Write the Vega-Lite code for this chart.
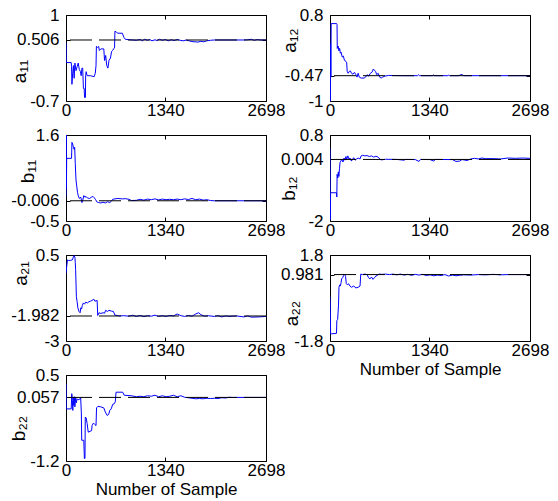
{
"$schema": "https://vega.github.io/schema/vega-lite/v6.json",
"padding": {"left": 8, "top": 5, "right": 5, "bottom": 2},
"background": "white",
"config": {
 "font": "Liberation Sans",
 "view": {"stroke": "black", "strokeWidth": 1},
 "axis": {"grid": false, "domain": false, "tickColor": "black", "tickSize": -4, "labelFont": "Liberation Sans", "labelFontSize": 17, "labelColor": "black", "titleFont": "Liberation Sans", "titleFontSize": 17, "titleFontWeight": "normal", "titleColor": "black", "labelOverlap": false, "labelFlush": false},
 "axisLeft": {"labelPadding": 11, "titleFontSize": 19},
 "axisBottom": {"labelPadding": 5, "titlePadding": 3}
},
"datasets": {
 "a11": [{"x":0,"y":0.45},{"x":3,"y":0.06},{"x":70,"y":0.06},{"x":75,"y":-0.02},{"x":80,"y":-0.37},{"x":90,"y":-0.15},{"x":100,"y":0.0},{"x":110,"y":-0.25},{"x":120,"y":0.05},{"x":135,"y":-0.1},{"x":150,"y":-0.02},{"x":165,"y":0.05},{"x":180,"y":-0.08},{"x":195,"y":-0.12},{"x":205,"y":-0.2},{"x":215,"y":-0.05},{"x":225,"y":-0.05},{"x":235,"y":-0.45},{"x":245,"y":-0.45},{"x":250,"y":-0.63},{"x":262,"y":-0.63},{"x":265,"y":-0.2},{"x":272,"y":-0.12},{"x":285,"y":-0.2},{"x":330,"y":-0.2},{"x":380,"y":-0.22},{"x":395,"y":-0.15},{"x":405,"y":0.0},{"x":410,"y":0.38},{"x":425,"y":0.36},{"x":440,"y":0.38},{"x":450,"y":0.3},{"x":470,"y":0.33},{"x":510,"y":0.33},{"x":520,"y":0.1},{"x":535,"y":0.2},{"x":550,"y":0.0},{"x":565,"y":-0.05},{"x":580,"y":0.1},{"x":600,"y":0.15},{"x":615,"y":0.28},{"x":630,"y":0.3},{"x":645,"y":0.34},{"x":655,"y":0.35},{"x":660,"y":0.68},{"x":680,"y":0.66},{"x":700,"y":0.64},{"x":760,"y":0.64},{"x":780,"y":0.56},{"x":800,"y":0.52},{"x":860,"y":0.51},{"x":900,"y":0.506},{"x":950,"y":0.5},{"x":1000,"y":0.515},{"x":1030,"y":0.49},{"x":1060,"y":0.52},{"x":1100,"y":0.5},{"x":1130,"y":0.515},{"x":1160,"y":0.49},{"x":1200,"y":0.51},{"x":1230,"y":0.495},{"x":1260,"y":0.52},{"x":1300,"y":0.5},{"x":1340,"y":0.515},{"x":1380,"y":0.49},{"x":1420,"y":0.51},{"x":1460,"y":0.495},{"x":1500,"y":0.515},{"x":1540,"y":0.5},{"x":1580,"y":0.49},{"x":1620,"y":0.505},{"x":1660,"y":0.49},{"x":1700,"y":0.475},{"x":1740,"y":0.47},{"x":1780,"y":0.465},{"x":1820,"y":0.48},{"x":1860,"y":0.47},{"x":1900,"y":0.49},{"x":1950,"y":0.5},{"x":2000,"y":0.506},{"x":2400,"y":0.506},{"x":2450,"y":0.51},{"x":2500,"y":0.52},{"x":2540,"y":0.5},{"x":2580,"y":0.515},{"x":2620,"y":0.506},{"x":2698,"y":0.506}],
 "a12": [{"x":0,"y":-0.2},{"x":4,"y":-1.0},{"x":8,"y":0.2},{"x":12,"y":-0.5},{"x":16,"y":0.62},{"x":90,"y":0.62},{"x":95,"y":0.6},{"x":98,"y":0.1},{"x":110,"y":0.15},{"x":120,"y":0.05},{"x":130,"y":0.1},{"x":140,"y":0.0},{"x":150,"y":0.02},{"x":165,"y":-0.08},{"x":180,"y":-0.06},{"x":195,"y":-0.15},{"x":215,"y":-0.17},{"x":225,"y":-0.2},{"x":232,"y":-0.38},{"x":245,"y":-0.42},{"x":260,"y":-0.38},{"x":275,"y":-0.37},{"x":290,"y":-0.42},{"x":310,"y":-0.44},{"x":330,"y":-0.4},{"x":350,"y":-0.45},{"x":365,"y":-0.5},{"x":380,"y":-0.42},{"x":395,"y":-0.5},{"x":420,"y":-0.52},{"x":460,"y":-0.52},{"x":480,"y":-0.5},{"x":500,"y":-0.45},{"x":520,"y":-0.48},{"x":545,"y":-0.42},{"x":570,"y":-0.39},{"x":585,"y":-0.33},{"x":600,"y":-0.36},{"x":615,"y":-0.38},{"x":630,"y":-0.45},{"x":650,"y":-0.42},{"x":670,"y":-0.5},{"x":690,"y":-0.52},{"x":710,"y":-0.5},{"x":740,"y":-0.48},{"x":790,"y":-0.465},{"x":1000,"y":-0.47},{"x":1180,"y":-0.47},{"x":1195,"y":-0.45},{"x":1210,"y":-0.47},{"x":1380,"y":-0.47},{"x":1395,"y":-0.455},{"x":1410,"y":-0.47},{"x":1590,"y":-0.47},{"x":1600,"y":-0.46},{"x":1610,"y":-0.47},{"x":1740,"y":-0.47},{"x":1760,"y":-0.45},{"x":1790,"y":-0.45},{"x":1800,"y":-0.47},{"x":2698,"y":-0.47}],
 "b11": [{"x":0,"y":0.1},{"x":3,"y":1.6},{"x":6,"y":0.3},{"x":9,"y":1.03},{"x":75,"y":1.03},{"x":80,"y":1.42},{"x":90,"y":1.38},{"x":100,"y":1.3},{"x":110,"y":1.25},{"x":117,"y":1.3},{"x":125,"y":0.9},{"x":135,"y":0.5},{"x":145,"y":0.35},{"x":155,"y":0.2},{"x":165,"y":0.12},{"x":180,"y":0.05},{"x":200,"y":0.08},{"x":215,"y":-0.05},{"x":225,"y":0.0},{"x":240,"y":0.12},{"x":255,"y":0.08},{"x":270,"y":0.1},{"x":290,"y":0.06},{"x":320,"y":0.05},{"x":340,"y":0.08},{"x":365,"y":0.1},{"x":380,"y":0.07},{"x":400,"y":0.02},{"x":420,"y":-0.04},{"x":440,"y":-0.05},{"x":470,"y":-0.06},{"x":500,"y":-0.04},{"x":530,"y":-0.06},{"x":560,"y":-0.03},{"x":590,"y":-0.05},{"x":610,"y":-0.02},{"x":630,"y":0.03},{"x":660,"y":0.04},{"x":700,"y":0.05},{"x":760,"y":0.04},{"x":800,"y":0.045},{"x":850,"y":0.03},{"x":880,"y":0.0},{"x":950,"y":0.005},{"x":1000,"y":0.03},{"x":1050,"y":0.01},{"x":1100,"y":0.035},{"x":1150,"y":0.02},{"x":1200,"y":0.04},{"x":1250,"y":0.015},{"x":1300,"y":0.035},{"x":1350,"y":0.02},{"x":1400,"y":0.03},{"x":1450,"y":0.02},{"x":1500,"y":0.035},{"x":1550,"y":0.02},{"x":1600,"y":0.04},{"x":1650,"y":0.025},{"x":1700,"y":0.05},{"x":1750,"y":0.02},{"x":1800,"y":0.035},{"x":1850,"y":0.01},{"x":1900,"y":0.02},{"x":1950,"y":0.0},{"x":2000,"y":-0.006},{"x":2698,"y":-0.006}],
 "b12": [{"x":0,"y":0.35},{"x":4,"y":-1.95},{"x":8,"y":-1.1},{"x":13,"y":-1.08},{"x":88,"y":-1.08},{"x":92,"y":-1.22},{"x":96,"y":-0.48},{"x":105,"y":-0.6},{"x":112,"y":-0.4},{"x":120,"y":-0.55},{"x":128,"y":-0.3},{"x":135,"y":-0.1},{"x":145,"y":-0.05},{"x":160,"y":0.0},{"x":175,"y":-0.08},{"x":190,"y":0.05},{"x":202,"y":-0.02},{"x":215,"y":0.1},{"x":225,"y":0.0},{"x":240,"y":0.12},{"x":255,"y":0.02},{"x":270,"y":0.05},{"x":290,"y":-0.05},{"x":300,"y":0.0},{"x":320,"y":0.06},{"x":340,"y":-0.02},{"x":360,"y":0.02},{"x":380,"y":0.05},{"x":405,"y":0.02},{"x":420,"y":0.12},{"x":440,"y":0.14},{"x":470,"y":0.12},{"x":500,"y":0.13},{"x":530,"y":0.1},{"x":560,"y":0.12},{"x":590,"y":0.08},{"x":620,"y":0.11},{"x":650,"y":0.08},{"x":680,"y":0.0},{"x":700,"y":-0.01},{"x":720,"y":0.0},{"x":750,"y":0.01},{"x":900,"y":0.004},{"x":1000,"y":-0.02},{"x":1020,"y":0.004},{"x":1150,"y":0.0},{"x":1200,"y":-0.06},{"x":1220,"y":0.004},{"x":1350,"y":0.0},{"x":1400,"y":-0.05},{"x":1420,"y":0.004},{"x":1650,"y":0.0},{"x":1700,"y":-0.06},{"x":1750,"y":-0.05},{"x":1780,"y":0.0},{"x":1850,"y":-0.03},{"x":1900,"y":0.02},{"x":1950,"y":0.04},{"x":2000,"y":0.02},{"x":2050,"y":0.05},{"x":2100,"y":0.03},{"x":2200,"y":0.03},{"x":2300,"y":0.02},{"x":2400,"y":0.05},{"x":2500,"y":0.04},{"x":2600,"y":0.05},{"x":2698,"y":0.04}],
 "a21": [{"x":0,"y":-0.25},{"x":10,"y":0.05},{"x":20,"y":0.3},{"x":30,"y":0.28},{"x":60,"y":0.28},{"x":85,"y":0.3},{"x":100,"y":0.42},{"x":110,"y":0.48},{"x":120,"y":0.4},{"x":125,"y":0.2},{"x":130,"y":-0.1},{"x":140,"y":-1.2},{"x":150,"y":-1.4},{"x":160,"y":-1.65},{"x":175,"y":-1.8},{"x":190,"y":-1.85},{"x":200,"y":-1.65},{"x":210,"y":-1.7},{"x":220,"y":-1.55},{"x":235,"y":-1.45},{"x":250,"y":-1.5},{"x":265,"y":-1.42},{"x":290,"y":-1.45},{"x":310,"y":-1.4},{"x":330,"y":-1.38},{"x":350,"y":-1.35},{"x":375,"y":-1.3},{"x":390,"y":-1.38},{"x":420,"y":-1.35},{"x":428,"y":-1.96},{"x":445,"y":-1.85},{"x":470,"y":-1.88},{"x":500,"y":-1.85},{"x":520,"y":-1.87},{"x":535,"y":-1.75},{"x":560,"y":-1.8},{"x":580,"y":-1.75},{"x":610,"y":-1.78},{"x":640,"y":-1.8},{"x":660,"y":-1.95},{"x":690,"y":-1.96},{"x":720,"y":-1.98},{"x":780,"y":-1.97},{"x":850,"y":-1.99},{"x":900,"y":-1.95},{"x":950,"y":-2.0},{"x":1000,"y":-1.96},{"x":1050,"y":-2.01},{"x":1100,"y":-1.97},{"x":1150,"y":-1.99},{"x":1200,"y":-1.95},{"x":1250,"y":-2.0},{"x":1300,"y":-1.97},{"x":1350,"y":-2.0},{"x":1400,"y":-1.96},{"x":1450,"y":-1.98},{"x":1500,"y":-1.9},{"x":1550,"y":-1.97},{"x":1600,"y":-2.0},{"x":1650,"y":-1.96},{"x":1700,"y":-1.99},{"x":1750,"y":-1.9},{"x":1790,"y":-1.85},{"x":1820,"y":-1.93},{"x":1870,"y":-1.99},{"x":1920,"y":-1.97},{"x":2000,"y":-2.0},{"x":2050,"y":-1.97},{"x":2100,"y":-2.02},{"x":2150,"y":-1.98},{"x":2200,"y":-2.0},{"x":2300,"y":-1.98},{"x":2400,"y":-2.02},{"x":2450,"y":-1.98},{"x":2500,"y":-2.03},{"x":2600,"y":-2.02},{"x":2698,"y":-2.0}],
 "a22": [{"x":0,"y":0.05},{"x":5,"y":-0.5},{"x":8,"y":-1.5},{"x":22,"y":-1.5},{"x":88,"y":-1.48},{"x":92,"y":-0.95},{"x":103,"y":-0.9},{"x":115,"y":-0.3},{"x":121,"y":0.45},{"x":130,"y":0.55},{"x":140,"y":0.5},{"x":150,"y":0.65},{"x":157,"y":0.8},{"x":170,"y":0.85},{"x":185,"y":0.95},{"x":200,"y":1.0},{"x":210,"y":0.9},{"x":220,"y":0.6},{"x":235,"y":0.55},{"x":250,"y":0.6},{"x":270,"y":0.5},{"x":290,"y":0.45},{"x":320,"y":0.5},{"x":350,"y":0.42},{"x":380,"y":0.45},{"x":405,"y":0.5},{"x":415,"y":1.0},{"x":440,"y":0.98},{"x":470,"y":1.0},{"x":500,"y":0.98},{"x":520,"y":0.85},{"x":540,"y":0.8},{"x":560,"y":0.88},{"x":580,"y":0.78},{"x":600,"y":0.85},{"x":620,"y":0.92},{"x":640,"y":0.95},{"x":660,"y":1.0},{"x":700,"y":0.99},{"x":750,"y":1.0},{"x":800,"y":0.98},{"x":850,"y":1.0},{"x":900,"y":0.97},{"x":950,"y":1.0},{"x":1000,"y":0.96},{"x":1050,"y":0.99},{"x":1100,"y":0.95},{"x":1150,"y":0.99},{"x":1200,"y":0.96},{"x":1250,"y":0.99},{"x":1300,"y":0.94},{"x":1350,"y":0.97},{"x":1400,"y":0.93},{"x":1450,"y":0.96},{"x":1500,"y":0.94},{"x":1550,"y":0.98},{"x":1600,"y":0.92},{"x":1650,"y":0.96},{"x":1700,"y":0.93},{"x":1750,"y":0.95},{"x":1800,"y":0.97},{"x":1900,"y":0.96},{"x":2000,"y":0.98},{"x":2100,"y":0.97},{"x":2200,"y":0.99},{"x":2300,"y":0.97},{"x":2400,"y":0.98},{"x":2500,"y":0.981},{"x":2698,"y":0.981}],
 "b22": [{"x":0,"y":0.32},{"x":3,"y":-0.17},{"x":70,"y":-0.17},{"x":78,"y":0.13},{"x":85,"y":0.0},{"x":92,"y":-0.2},{"x":98,"y":0.05},{"x":105,"y":-0.1},{"x":112,"y":0.07},{"x":120,"y":-0.13},{"x":130,"y":0.05},{"x":140,"y":-0.05},{"x":150,"y":0.03},{"x":162,"y":0.01},{"x":184,"y":0.02},{"x":198,"y":0.05},{"x":207,"y":-0.25},{"x":212,"y":-0.79},{"x":240,"y":-0.79},{"x":248,"y":-1.15},{"x":256,"y":-1.15},{"x":260,"y":-0.33},{"x":272,"y":-0.35},{"x":285,"y":-0.46},{"x":300,"y":-0.63},{"x":345,"y":-0.6},{"x":352,"y":-0.5},{"x":370,"y":-0.45},{"x":390,"y":-0.48},{"x":405,"y":-0.5},{"x":412,"y":-0.15},{"x":430,"y":-0.12},{"x":470,"y":-0.13},{"x":510,"y":-0.15},{"x":530,"y":-0.23},{"x":555,"y":-0.3},{"x":575,"y":-0.28},{"x":590,"y":-0.2},{"x":610,"y":-0.17},{"x":630,"y":-0.08},{"x":650,"y":-0.07},{"x":665,"y":-0.03},{"x":675,"y":0.16},{"x":700,"y":0.16},{"x":765,"y":0.16},{"x":785,"y":0.1},{"x":880,"y":0.09},{"x":950,"y":0.07},{"x":1000,"y":0.08},{"x":1050,"y":0.07},{"x":1100,"y":0.09},{"x":1150,"y":0.08},{"x":1200,"y":0.1},{"x":1250,"y":0.07},{"x":1300,"y":0.09},{"x":1350,"y":0.07},{"x":1400,"y":0.08},{"x":1450,"y":0.1},{"x":1500,"y":0.07},{"x":1550,"y":0.09},{"x":1600,"y":0.06},{"x":1650,"y":0.05},{"x":1700,"y":0.04},{"x":1750,"y":0.03},{"x":1800,"y":0.035},{"x":1850,"y":0.03},{"x":1900,"y":0.04},{"x":1950,"y":0.035},{"x":2000,"y":0.04},{"x":2050,"y":0.035},{"x":2100,"y":0.05},{"x":2150,"y":0.045},{"x":2200,"y":0.06},{"x":2250,"y":0.055},{"x":2300,"y":0.057},{"x":2698,"y":0.057}]
},
"columns": 2,
"spacing": {"row": 34, "column": 64},
"bounds": "flush",
"concat": [
 {"width": 200, "height": 86, "resolve": {"axis": {"x": "independent", "y": "independent"}}, "layer": [
  {"data": {"name": "a11"}, "mark": {"type": "line", "color": "#0000ff", "strokeWidth": 1, "clip": true}, "encoding": {
   "x": {"field": "x", "type": "quantitative", "scale": {"domain": [0, 2698], "nice": false, "zero": false}, "axis": {"values": [0, 1340, 2698], "labelExpr": "'' + datum.value", "title": null}},
   "y": {"field": "y", "type": "quantitative", "scale": {"domain": [-0.7, 1], "nice": false, "zero": false}, "axis": {"values": [-0.7, 0.506, 1], "labelExpr": "'' + datum.value", "title": "a₁₁", "titleAngle": 270, "titleAlign": "center", "titleBaseline": "middle", "titleX": -47, "titleY": 56}}}},
  {"data": {"values": [{"v": 0.506}]}, "mark": {"type": "rule", "color": "black", "strokeWidth": 1, "strokeDash": [22, 7]}, "encoding": {"y": {"field": "v", "type": "quantitative", "axis": null}}},
  {"data": {"name": "a11"}, "mark": {"type": "line", "opacity": 0}, "encoding": {
   "x": {"field": "x", "type": "quantitative", "axis": {"orient": "top", "values": [0, 1340, 2698], "labels": false, "title": null}},
   "y": {"field": "y", "type": "quantitative", "axis": {"orient": "right", "values": [-0.7, 0.506, 1], "labels": false, "title": null}}}}
 ]},
 {"width": 200, "height": 86, "resolve": {"axis": {"x": "independent", "y": "independent"}}, "layer": [
  {"data": {"name": "a12"}, "mark": {"type": "line", "color": "#0000ff", "strokeWidth": 1, "clip": true}, "encoding": {
   "x": {"field": "x", "type": "quantitative", "scale": {"domain": [0, 2698], "nice": false, "zero": false}, "axis": {"values": [0, 1340, 2698], "labelExpr": "'' + datum.value", "title": null}},
   "y": {"field": "y", "type": "quantitative", "scale": {"domain": [-1, 0.8], "nice": false, "zero": false}, "axis": {"values": [-1, -0.47, 0.8], "labelExpr": "'' + datum.value", "title": "a₁₂", "titleAngle": 270, "titleAlign": "center", "titleBaseline": "middle", "titleX": -41, "titleY": 25}}}},
  {"data": {"values": [{"v": -0.47}]}, "mark": {"type": "rule", "color": "black", "strokeWidth": 1, "strokeDash": [22, 7]}, "encoding": {"y": {"field": "v", "type": "quantitative", "axis": null}}},
  {"data": {"name": "a12"}, "mark": {"type": "line", "opacity": 0}, "encoding": {
   "x": {"field": "x", "type": "quantitative", "axis": {"orient": "top", "values": [0, 1340, 2698], "labels": false, "title": null}},
   "y": {"field": "y", "type": "quantitative", "axis": {"orient": "right", "values": [-1, -0.47, 0.8], "labels": false, "title": null}}}}
 ]},
 {"width": 200, "height": 86, "resolve": {"axis": {"x": "independent", "y": "independent"}}, "layer": [
  {"data": {"name": "b11"}, "mark": {"type": "line", "color": "#0000ff", "strokeWidth": 1, "clip": true}, "encoding": {
   "x": {"field": "x", "type": "quantitative", "scale": {"domain": [0, 2698], "nice": false, "zero": false}, "axis": {"values": [0, 1340, 2698], "labelExpr": "'' + datum.value", "title": null}},
   "y": {"field": "y", "type": "quantitative", "scale": {"domain": [-0.5, 1.6], "nice": false, "zero": false}, "axis": {"values": [-0.5, -0.006, 1.6], "labelExpr": "'' + datum.value", "title": "b₁₁", "titleAngle": 270, "titleAlign": "center", "titleBaseline": "middle", "titleX": -39, "titleY": 36}}}},
  {"data": {"values": [{"v": -0.006}]}, "mark": {"type": "rule", "color": "black", "strokeWidth": 1, "strokeDash": [22, 7]}, "encoding": {"y": {"field": "v", "type": "quantitative", "axis": null}}},
  {"data": {"name": "b11"}, "mark": {"type": "line", "opacity": 0}, "encoding": {
   "x": {"field": "x", "type": "quantitative", "axis": {"orient": "top", "values": [0, 1340, 2698], "labels": false, "title": null}},
   "y": {"field": "y", "type": "quantitative", "axis": {"orient": "right", "values": [-0.5, -0.006, 1.6], "labels": false, "title": null}}}}
 ]},
 {"width": 200, "height": 86, "resolve": {"axis": {"x": "independent", "y": "independent"}}, "layer": [
  {"data": {"name": "b12"}, "mark": {"type": "line", "color": "#0000ff", "strokeWidth": 1, "clip": true}, "encoding": {
   "x": {"field": "x", "type": "quantitative", "scale": {"domain": [0, 2698], "nice": false, "zero": false}, "axis": {"values": [0, 1340, 2698], "labelExpr": "'' + datum.value", "title": null}},
   "y": {"field": "y", "type": "quantitative", "scale": {"domain": [-2, 0.8], "nice": false, "zero": false}, "axis": {"values": [-2, 0.004, 0.8], "labelExpr": "'' + datum.value", "title": "b₁₂", "titleAngle": 270, "titleAlign": "center", "titleBaseline": "middle", "titleX": -42, "titleY": 53}}}},
  {"data": {"values": [{"v": 0.004}]}, "mark": {"type": "rule", "color": "black", "strokeWidth": 1, "strokeDash": [22, 7]}, "encoding": {"y": {"field": "v", "type": "quantitative", "axis": null}}},
  {"data": {"name": "b12"}, "mark": {"type": "line", "opacity": 0}, "encoding": {
   "x": {"field": "x", "type": "quantitative", "axis": {"orient": "top", "values": [0, 1340, 2698], "labels": false, "title": null}},
   "y": {"field": "y", "type": "quantitative", "axis": {"orient": "right", "values": [-2, 0.004, 0.8], "labels": false, "title": null}}}}
 ]},
 {"width": 200, "height": 86, "resolve": {"axis": {"x": "independent", "y": "independent"}}, "layer": [
  {"data": {"name": "a21"}, "mark": {"type": "line", "color": "#0000ff", "strokeWidth": 1, "clip": true}, "encoding": {
   "x": {"field": "x", "type": "quantitative", "scale": {"domain": [0, 2698], "nice": false, "zero": false}, "axis": {"values": [0, 1340, 2698], "labelExpr": "'' + datum.value", "title": null}},
   "y": {"field": "y", "type": "quantitative", "scale": {"domain": [-3, 0.5], "nice": false, "zero": false}, "axis": {"values": [-3, -1.982, 0.5], "labelExpr": "'' + datum.value", "title": "a₂₁", "titleAngle": 270, "titleAlign": "center", "titleBaseline": "middle", "titleX": -46, "titleY": 18}}}},
  {"data": {"values": [{"v": -1.982}]}, "mark": {"type": "rule", "color": "black", "strokeWidth": 1, "strokeDash": [22, 7]}, "encoding": {"y": {"field": "v", "type": "quantitative", "axis": null}}},
  {"data": {"name": "a21"}, "mark": {"type": "line", "opacity": 0}, "encoding": {
   "x": {"field": "x", "type": "quantitative", "axis": {"orient": "top", "values": [0, 1340, 2698], "labels": false, "title": null}},
   "y": {"field": "y", "type": "quantitative", "axis": {"orient": "right", "values": [-3, -1.982, 0.5], "labels": false, "title": null}}}}
 ]},
 {"width": 200, "height": 86, "resolve": {"axis": {"x": "independent", "y": "independent"}}, "layer": [
  {"data": {"name": "a22"}, "mark": {"type": "line", "color": "#0000ff", "strokeWidth": 1, "clip": true}, "encoding": {
   "x": {"field": "x", "type": "quantitative", "scale": {"domain": [0, 2698], "nice": false, "zero": false}, "axis": {"values": [0, 1340, 2698], "labelExpr": "'' + datum.value", "title": "Number of Sample"}},
   "y": {"field": "y", "type": "quantitative", "scale": {"domain": [-1.8, 1.8], "nice": false, "zero": false}, "axis": {"values": [-1.8, 0.981, 1.8], "labelExpr": "'' + datum.value", "title": "a₂₂", "titleAngle": 270, "titleAlign": "center", "titleBaseline": "middle", "titleX": -39, "titleY": 58}}}},
  {"data": {"values": [{"v": 0.981}]}, "mark": {"type": "rule", "color": "black", "strokeWidth": 1, "strokeDash": [22, 7]}, "encoding": {"y": {"field": "v", "type": "quantitative", "axis": null}}},
  {"data": {"name": "a22"}, "mark": {"type": "line", "opacity": 0}, "encoding": {
   "x": {"field": "x", "type": "quantitative", "axis": {"orient": "top", "values": [0, 1340, 2698], "labels": false, "title": null}},
   "y": {"field": "y", "type": "quantitative", "axis": {"orient": "right", "values": [-1.8, 0.981, 1.8], "labels": false, "title": null}}}}
 ]},
 {"width": 200, "height": 86, "resolve": {"axis": {"x": "independent", "y": "independent"}}, "layer": [
  {"data": {"name": "b22"}, "mark": {"type": "line", "color": "#0000ff", "strokeWidth": 1, "clip": true}, "encoding": {
   "x": {"field": "x", "type": "quantitative", "scale": {"domain": [0, 2698], "nice": false, "zero": false}, "axis": {"values": [0, 1340, 2698], "labelExpr": "'' + datum.value", "title": "Number of Sample"}},
   "y": {"field": "y", "type": "quantitative", "scale": {"domain": [-1.2, 0.5], "nice": false, "zero": false}, "axis": {"values": [-1.2, 0.057, 0.5], "labelExpr": "'' + datum.value", "title": "b₂₂", "titleAngle": 270, "titleAlign": "center", "titleBaseline": "middle", "titleX": -48, "titleY": 53}}}},
  {"data": {"values": [{"v": 0.057}]}, "mark": {"type": "rule", "color": "black", "strokeWidth": 1, "strokeDash": [22, 7]}, "encoding": {"y": {"field": "v", "type": "quantitative", "axis": null}}},
  {"data": {"name": "b22"}, "mark": {"type": "line", "opacity": 0}, "encoding": {
   "x": {"field": "x", "type": "quantitative", "axis": {"orient": "top", "values": [0, 1340, 2698], "labels": false, "title": null}},
   "y": {"field": "y", "type": "quantitative", "axis": {"orient": "right", "values": [-1.2, 0.057, 0.5], "labels": false, "title": null}}}}
 ]}
]
}
